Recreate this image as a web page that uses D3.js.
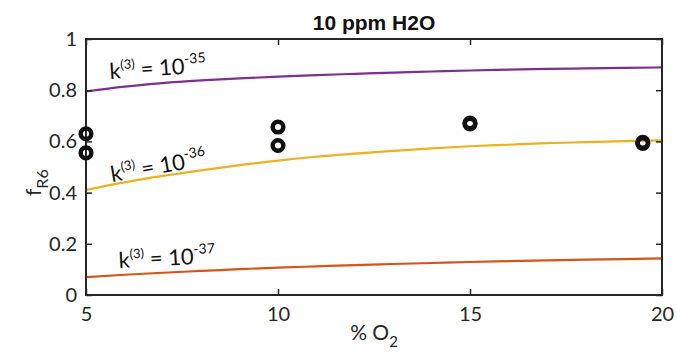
<!DOCTYPE html>
<html><head><meta charset="utf-8">
<script src="https://cdn.jsdelivr.net/npm/d3@7"></script>
<style>body{margin:0;background:#fff}svg{display:block}</style>
</head><body>
<script>
const o2Grid = [5,6,7,8,9,10,11,12,13,14,15,16,17,18,19,20];
const fK35 = [0.795,0.814,0.828,0.838,0.846,0.853,0.859,0.864,0.869,0.873,0.877,0.880,0.883,0.885,0.887,0.889];
const fK36 = [0.41,0.44,0.465,0.487,0.507,0.525,0.54,0.552,0.563,0.573,0.581,0.587,0.593,0.597,0.601,0.604];
const fK37 = [0.07,0.079,0.087,0.094,0.101,0.107,0.112,0.117,0.121,0.125,0.129,0.132,0.135,0.138,0.140,0.143];
const obsO2 = [5,5,10,10,15,15,19.5,19.5];
const obsF  = [0.63,0.555,0.656,0.584,0.668,0.672,0.592,0.596];
const xTicks = [5,10,15,20];
const yTicks = [0,0.2,0.4,0.6,0.8,1];
const seriesNames = ["-35","-36","-37"];

const W=677,H=360, m={l:86,r:15,t:39,b:65};
const svg=d3.select("body").append("svg").attr("width",W).attr("height",H).attr("font-family","Lato");
const x=d3.scaleLinear().domain([5,20]).range([m.l,W-m.r]);
const y=d3.scaleLinear().domain([0,1]).range([H-m.b,m.t]);

const series=[
 {vals:fK35,color:"#7E2F8E",name:seriesNames[0],lx:110,ly:79,rot:-4},
 {vals:fK36,color:"#EDB120",name:seriesNames[1],lx:112,ly:182,rot:-10},
 {vals:fK37,color:"#D95319",name:seriesNames[2],lx:119,ly:268,rot:-3}
];
const line=d3.line().x(d=>x(d[0])).y(d=>y(d[1])).curve(d3.curveMonotoneX);
series.forEach(s=>{
  svg.append("path").attr("d",line(o2Grid.map((g,i)=>[g,s.vals[i]])))
   .attr("fill","none").attr("stroke",s.color).attr("stroke-width",2.2);
});

const fs=20;
const xb=d3.axisBottom(x).tickValues(xTicks).tickSize(-6).tickPadding(12).tickFormat(d3.format("d"));
const xt=d3.axisTop(x).tickValues(xTicks).tickSize(-6).tickFormat("");
const yl=d3.axisLeft(y).tickValues(yTicks).tickSize(-6).tickPadding(9).tickFormat(d=>d===0||d===1?d3.format("d")(d):d3.format(".1f")(d));
const yr=d3.axisRight(y).tickValues(yTicks).tickSize(-6).tickFormat("");
function style(g){g.select(".domain").remove();
 g.selectAll(".tick line").attr("stroke","#262626").attr("stroke-width",1.5);
 g.selectAll("text").attr("font-size",fs).attr("fill","#262626").attr("font-family","Lato");}
svg.append("g").attr("transform",`translate(0,${H-m.b})`).call(xb).call(style);
svg.append("g").attr("transform",`translate(0,${m.t})`).call(xt).call(style);
svg.append("g").attr("transform",`translate(${m.l},0)`).call(yl).call(style);
svg.append("g").attr("transform",`translate(${W-m.r},0)`).call(yr).call(style);
svg.append("rect").attr("x",m.l).attr("y",m.t).attr("width",W-m.r-m.l).attr("height",H-m.b-m.t)
 .attr("fill","none").attr("stroke","#262626").attr("stroke-width",2);

svg.selectAll("circle.obs").data(obsO2.map((v,i)=>[v,obsF[i]])).enter().append("circle")
 .attr("class","obs").attr("cx",d=>x(d[0])).attr("cy",d=>y(d[1])).attr("r",5.3)
 .attr("fill","none").attr("stroke","#111").attr("stroke-width",4.5);

series.forEach(s=>{
  const t=svg.append("text").attr("transform",`translate(${s.lx},${s.ly}) rotate(${s.rot})`)
   .attr("font-size",22).attr("fill","#111");
  t.append("tspan").text("k");
  t.append("tspan").attr("dy",-9).attr("font-size",13).text("(3)");
  t.append("tspan").attr("dy",9).text(" = 10");
  t.append("tspan").attr("dy",-10).attr("font-size",14).text(s.name);
});

svg.append("text").attr("x",(m.l+W-m.r)/2).attr("y",30).attr("text-anchor","middle")
 .attr("font-family","Liberation Sans").attr("font-weight","bold").attr("font-size",21).attr("fill","#111").text("10 ppm H2O");
const xl=svg.append("text").attr("x",(m.l+W-m.r)/2).attr("y",340).attr("text-anchor","middle").attr("font-size",21).attr("fill","#262626");
xl.append("tspan").text("% O");
xl.append("tspan").attr("dy",7).attr("font-size",15).text("2");
const ylab=svg.append("text").attr("transform",`translate(41,196) rotate(-90)`).attr("text-anchor","start").attr("font-size",21).attr("fill","#262626");
ylab.append("tspan").text("f");
ylab.append("tspan").attr("dy",7).attr("font-size",16).text("R6");
</script>
</body></html>
